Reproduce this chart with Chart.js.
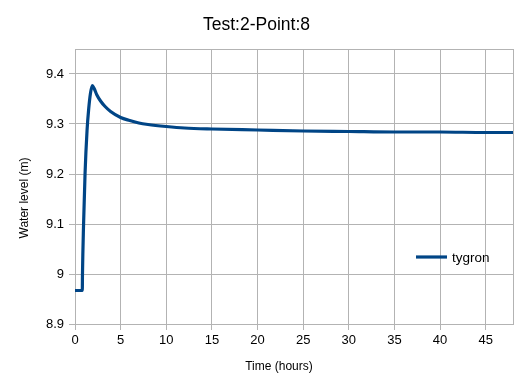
<!DOCTYPE html>
<html lang="en">
  <head>
    <meta charset="UTF-8" />
    <title>Test:2-Point:8</title>
    <style>
      body { margin: 0; background: #fff; }
    </style>
  </head>
  <body>
    <canvas id="myChart" width="521" height="390"></canvas>
    <script src="https://cdn.jsdelivr.net/npm/chart.js"></script>
    <script>
        const times = [0, 0.5, 0.8, 0.82, 0.94, 1.1, 1.32, 1.5, 1.7, 1.9, 2.1, 2.4, 2.8, 3.3, 3.9, 5, 6, 7, 8, 10, 12, 15, 20, 25, 30, 35, 40, 45, 48];
        const levels = [8.967, 8.967, 8.967, 9.0, 9.1, 9.2, 9.287, 9.33, 9.362, 9.377, 9.371, 9.358, 9.346, 9.335, 9.325, 9.313, 9.307, 9.302, 9.299, 9.295, 9.292, 9.290, 9.288, 9.286, 9.285, 9.284, 9.284, 9.283, 9.283];
        const xTicks = [0, 5, 10, 15, 20, 25, 30, 35, 40, 45, 48];
        const yTicks = [8.9, 9, 9.1, 9.2, 9.3, 9.4, 9.45];
        const seriesName = "tygron";
        const xTitle = "Time (hours)";
        const yTitle = "Water level (m)";

        const font = "Liberation Sans, Arial, sans-serif";
        const gridGrey = "#b3b3b3";
        const lineBlue = "#004586";

        // legend inside the plot + axis titles placed like the original
        const extras = {
            id: 'extras',
            afterDraw(chart) {
                const {ctx, chartArea: {right}} = chart;
                const y = 257;
                ctx.save();
                ctx.strokeStyle = lineBlue;
                ctx.lineWidth = 3.2;
                ctx.beginPath();
                ctx.moveTo(right - 97, y);
                ctx.lineTo(right - 66, y);
                ctx.stroke();
                ctx.fillStyle = "#000";
                ctx.font = "13.5px " + font;
                ctx.textBaseline = "middle";
                ctx.fillText(chart.data.datasets[0].label, right - 61, y + 1);

                ctx.font = "12px " + font;
                ctx.textAlign = "center";
                ctx.fillText(xTitle, 279, 367);
                ctx.translate(25, 198);
                ctx.rotate(-Math.PI / 2);
                ctx.fillText(yTitle, 0, 0);
                ctx.restore();
            }
        };

        const config = {
            type: "line",
            data: {
                datasets: [{
                    label: seriesName,
                    data: times.map((t, i) => ({x: t, y: levels[i]})),
                    borderColor: lineBlue,
                    borderWidth: 3.2,
                    pointRadius: 0,
                    cubicInterpolationMode: 'monotone',
                    fill: false
                }]
            },
            plugins: [extras],
            options: {
                responsive: false,
                animation: false,
                layout: { padding: { left: 0, right: 8, top: 0, bottom: 0 } },
                plugins: {
                    legend: { display: false },
                    tooltip: { enabled: false },
                    title: {
                        display: true,
                        text: "Test:2-Point:8",
                        color: "#000",
                        font: { family: font, size: 17.5, weight: 'normal' },
                        padding: { top: 15, bottom: 13 }
                    }
                },
                scales: {
                    x: {
                        type: 'linear',
                        min: 0,
                        max: 48,
                        afterBuildTicks(scale) { scale.ticks = xTicks.map(v => ({value: v})); },
                        afterFit(scale) { scale.height = 66; },
                        grid: {
                            color: gridGrey,
                            lineWidth: 1,
                            tickLength: 6,
                            tickColor: ctx => ctx.tick && ctx.tick.value === 48 ? 'rgba(0,0,0,0)' : gridGrey
                        },
                        border: { color: gridGrey, width: 1 },
                        ticks: {
                            color: "#000",
                            padding: 3,
                            maxRotation: 0,
                            autoSkip: false,
                            font: { family: font, size: 13 },
                            callback: v => v === 48 ? "" : String(v)
                        }
                    },
                    y: {
                        min: 8.9,
                        max: 9.45,
                        afterBuildTicks(scale) { scale.ticks = yTicks.map(v => ({value: v})); },
                        afterFit(scale) { scale.width = 75; },
                        grid: {
                            color: gridGrey,
                            lineWidth: 1,
                            tickLength: 6,
                            tickColor: ctx => ctx.tick && ctx.tick.value === 9.45 ? 'rgba(0,0,0,0)' : gridGrey
                        },
                        border: { color: gridGrey, width: 1 },
                        ticks: {
                            color: "#000",
                            padding: 5,
                            autoSkip: false,
                            font: { family: font, size: 13 },
                            callback: v => v === 9.45 ? "" : String(Math.round(v * 10) / 10)
                        }
                    }
                }
            }
        };

        const myChart = new Chart(document.getElementById("myChart"), config);
    </script>
  </body>
</html>
